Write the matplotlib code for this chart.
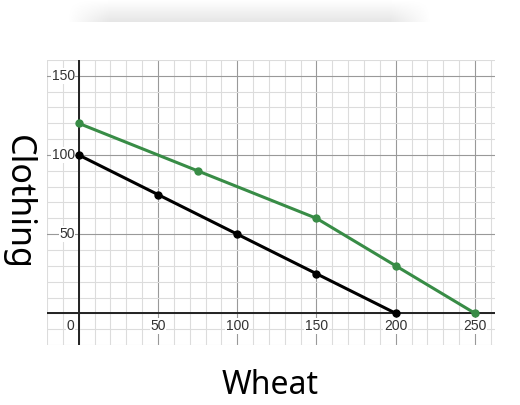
import matplotlib
matplotlib.use("Agg")
import matplotlib.pyplot as plt
import numpy as np

# production possibility frontiers
wheat_a = [0, 50, 100, 150, 200]
cloth_a = [100, 75, 50, 25, 0]
wheat_b = [0, 75, 150, 200, 250]
cloth_b = [120, 90, 60, 30, 0]

xticks = [50, 100, 150, 200, 250]
yticks = [50, 100, 150]

fig = plt.figure(figsize=(5.2, 4.05), dpi=100)

# soft shadow strip at the top (header card)
sh = fig.add_axes([0, 1 - 22/405, 1, 22/405])
sh.axis("off")
grad = np.linspace(0.9, 1.0, 50).reshape(-1, 1)
xs = np.linspace(0, 1, 520)
fade = np.clip(np.minimum((xs - 0.13) / 0.08, (0.83 - xs) / 0.08), 0, 1)
img = 1 - (1 - grad) * fade[None, :]
img = img[::-1]
sh.imshow(img, cmap="gray", vmin=0, vmax=1, aspect="auto", extent=[0, 1, 0, 1])
sh.set_xlim(0, 1)
sh.set_ylim(0, 1)

ax = fig.add_axes([47/520, 60/405, 448/520, 285/405])
ax.set_xlim(-20, 262.6)
ax.set_ylim(-20, 160)
for s in ax.spines.values():
    s.set_visible(False)
ax.set_xticks([])
ax.set_yticks([])

for x in np.arange(-20, 263, 10):
    c = "#999999" if x % 50 == 0 else "#dcdcdc"
    ax.axvline(x, color=c, lw=0.8, zorder=0)
for y in np.arange(-20, 161, 10):
    c = "#999999" if y % 50 == 0 else "#dcdcdc"
    ax.axhline(y, color=c, lw=0.8, zorder=0)
ax.axhline(0, color="#222222", lw=1.4, zorder=1)
ax.axvline(0, color="#222222", lw=1.4, zorder=1)

ax.plot(wheat_b, cloth_b, "-o", color="#388c46", lw=2.2, ms=5, zorder=3)
ax.plot(wheat_a, cloth_a, "-o", color="#000000", lw=2.2, ms=5, zorder=3)

lab = dict(fontsize=10, color="#333333", family="Liberation Sans",
           bbox=dict(facecolor="white", edgecolor="none", pad=0.5), zorder=2)
for t in xticks:
    ax.text(t, -8, str(t), ha="center", va="center", **lab)
ax.text(-5, -8, "0", ha="center", va="center", **lab)
for t in yticks:
    ax.text(-2.5, t, str(t), ha="right", va="center", **lab)

fig.text(270/520, 1 - 385/405, "Wheat", ha="center", va="center", fontsize=23,
         family="Noto Sans")
fig.text(18/520, 1 - 202/405, "Clothing", ha="center", va="center", fontsize=24.5,
         rotation=-90, family="Noto Sans")

fig.savefig("out.png", dpi=100)
